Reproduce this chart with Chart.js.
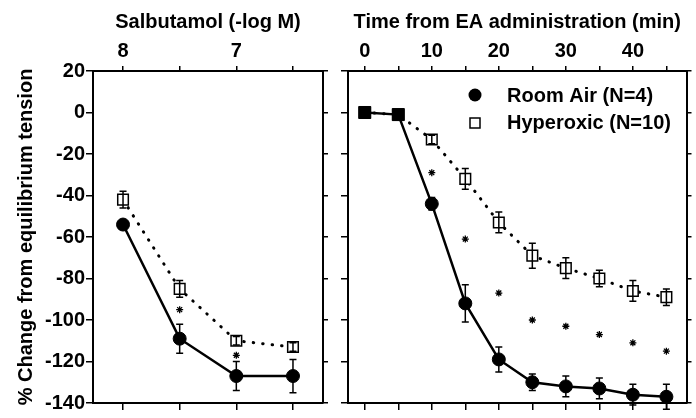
<!DOCTYPE html>
<html>
<head>
<meta charset="utf-8">
<script src="https://cdn.jsdelivr.net/npm/chart.js@4.4.1/dist/chart.umd.min.js"></script>
<style>
  body { margin: 0; background: #fff; }
  #wrap { position: relative; width: 696px; height: 418px; }
  #c1 { position: absolute; left: 0; top: 0; }
  #c2 { position: absolute; left: 335px; top: 0; }
</style>
</head>
<body>
<div id="wrap">
  <canvas id="c1" width="335" height="418"></canvas>
  <canvas id="c2" width="361" height="418"></canvas>
</div>
<script>
// left panel - salbutamol dose response
var salbDose = [8, 7.5, 7, 6.5];
var salbRoom = [-54, -109, -127, -127];
var salbRoomErr = [2, 7, 7, 8];
var salbHyper = [-42, -85, -110, -113];
var salbHyperErr = [4, 4, 2, 2];
var salbStarDose = [7.5, 7];
var salbStarVal = [-95, -117];
var salbTickLabels = [8, 7];

// right panel - time after EA
var eaTime = [0, 5, 10, 15, 20, 25, 30, 35, 40, 45];
var eaRoom = [0, -1, -44, -92, -119, -130, -132, -133, -136, -137];
var eaRoomErr = [1, 1, 3, 9, 6, 4, 5, 5, 5, 6];
var eaHyper = [0, -1, -13, -32, -53, -69, -75, -80, -86, -89];
var eaHyperErr = [1, 1, 2, 5, 5, 6, 5, 4, 5, 4];
var eaStarTime = [10, 15, 20, 25, 30, 35, 40, 45];
var eaStarVal = [-29, -61, -87, -100, -103, -107, -111, -115];
var eaTickLabels = [0, 10, 20, 30, 40];

var yTickLabels = [20, 0, -20, -40, -60, -80, -100, -120, -140];

Chart.defaults.font.family = 'Arial, "Liberation Sans", sans-serif';
Chart.defaults.font.size = 20;
Chart.defaults.font.weight = 'bold';
Chart.defaults.color = '#000';

function pts(xs, ys) {
  return xs.map(function (x, i) { return { x: x, y: ys[i] }; });
}

// error bars drawn on top of the points
var errorBars = {
  id: 'errorBars',
  afterDatasetsDraw: function (chart) {
    var ctx = chart.ctx;
    var ys = chart.scales.y;
    chart.data.datasets.forEach(function (ds, i) {
      if (!ds.errors) return;
      var meta = chart.getDatasetMeta(i);
      ctx.save();
      ctx.strokeStyle = '#000';
      ctx.lineWidth = 1.5;
      meta.data.forEach(function (p, j) {
        var v = ds.data[j].y, e = ds.errors[j];
        var y1 = ys.getPixelForValue(v + e), y2 = ys.getPixelForValue(v - e);
        ctx.beginPath();
        ctx.moveTo(p.x, y1); ctx.lineTo(p.x, y2);
        ctx.moveTo(p.x - 3.5, y1); ctx.lineTo(p.x + 3.5, y1);
        ctx.moveTo(p.x - 3.5, y2); ctx.lineTo(p.x + 3.5, y2);
        ctx.stroke();
      });
      ctx.restore();
    });
  }
};

var legendBox = {
  id: 'legendBox',
  afterDraw: function (chart) {
    var ctx = chart.ctx;
    ctx.save();
    ctx.fillStyle = '#000';
    ctx.beginPath();
    ctx.arc(140, 95, 6.5, 0, Math.PI * 2);
    ctx.fill();
    ctx.strokeStyle = '#000';
    ctx.lineWidth = 1.5;
    ctx.strokeRect(135, 118, 10, 10);
    ctx.font = 'bold 20px Arial, "Liberation Sans", sans-serif';
    ctx.textBaseline = 'alphabetic';
    ctx.fillText('Room Air (N=4)', 172, 102);
    ctx.fillText('Hyperoxic (N=10)', 172, 129);
    ctx.restore();
  }
};

function gridOpt(len) {
  return { drawOnChartArea: false, drawTicks: true, tickLength: len, color: '#000', lineWidth: 1.5 };
}
function borderOpt() {
  return { display: true, color: '#000', width: 2 };
}

function makeDatasets(xs, room, roomErr, hyper, hyperErr, starX, starY, roomStyle) {
  return [
    {
      label: 'Room Air (N=4)',
      data: pts(xs, room),
      errors: roomErr,
      borderColor: '#000',
      borderWidth: 2.5,
      backgroundColor: '#000',
      pointStyle: roomStyle,
      pointRadius: roomStyle.map(function (s) { return s === 'rect' ? 8.5 : 6.5; }),
      pointBorderWidth: 1
    },
    {
      label: 'Hyperoxic (N=10)',
      data: pts(xs, hyper),
      errors: hyperErr,
      borderColor: '#000',
      borderWidth: 3,
      borderDash: [0.5, 9],
      borderCapStyle: 'round',
      pointStyle: 'rect',
      pointRadius: 7.5,
      pointBorderWidth: 1.5,
      pointBackgroundColor: '#fff',
      pointBorderColor: '#000'
    },
    {
      label: 'sig',
      data: pts(starX, starY),
      showLine: false,
      pointStyle: 'star',
      pointRadius: 3.5,
      pointBorderWidth: 1.3,
      borderColor: '#000'
    }
  ];
}

// left chart
new Chart(document.getElementById('c1'), {
  type: 'line',
  data: {
    datasets: makeDatasets(salbDose, salbRoom, salbRoomErr, salbHyper, salbHyperErr,
      salbStarDose, salbStarVal, ['circle', 'circle', 'circle', 'circle'])
  },
  options: {
    responsive: false,
    animation: false,
    plugins: { legend: { display: false }, tooltip: { enabled: false } },
    scales: {
      x: {
        type: 'linear', position: 'top', reverse: true, min: 6.235, max: 8.265,
        afterBuildTicks: function (s) { s.ticks = salbDose.map(function (v) { return { value: v }; }); },
        afterFit: function (s) { s.height = 71; },
        ticks: {
          padding: 3,
          callback: function (v) { return salbTickLabels.indexOf(v) >= 0 ? String(v) : ''; }
        },
        grid: gridOpt(5), border: borderOpt(),
        title: { display: true, text: 'Salbutamol (-log M)', padding: { top: 10, bottom: 0 } }
      },
      xb: {
        type: 'linear', axis: 'x', position: 'bottom', reverse: true, min: 6.235, max: 8.265,
        afterBuildTicks: function (s) { s.ticks = salbDose.map(function (v) { return { value: v }; }); },
        afterFit: function (s) { s.height = 11; },
        ticks: { callback: function () { return ''; } },
        grid: gridOpt(7), border: borderOpt()
      },
      y: {
        type: 'linear', position: 'left', min: -140, max: 20,
        afterFit: function (s) { s.width = 93; },
        ticks: {
          stepSize: 10, padding: 1,
          callback: function (v) { return yTickLabels.indexOf(v) >= 0 ? String(v) : ''; }
        },
        grid: gridOpt(7), border: borderOpt(),
        title: { display: true, text: '% Change from equilibrium tension', padding: { top: 14, bottom: 0 } }
      },
      yr: {
        type: 'linear', axis: 'y', position: 'right', min: -140, max: 20,
        afterFit: function (s) { s.width = 12; },
        ticks: { stepSize: 10, callback: function () { return ''; } },
        grid: gridOpt(5), border: borderOpt()
      }
    }
  },
  plugins: [errorBars]
});

// right chart
new Chart(document.getElementById('c2'), {
  type: 'line',
  data: {
    datasets: makeDatasets(eaTime, eaRoom, eaRoomErr, eaHyper, eaHyperErr,
      eaStarTime, eaStarVal,
      eaTime.map(function (t, i) { return i < 2 ? 'rect' : 'circle'; }))
  },
  options: {
    responsive: false,
    animation: false,
    plugins: { legend: { display: false }, tooltip: { enabled: false } },
    scales: {
      x: {
        type: 'linear', position: 'top', min: -2.5, max: 48,
        afterBuildTicks: function (s) { s.ticks = eaTime.map(function (v) { return { value: v }; }); },
        afterFit: function (s) { s.height = 71; },
        ticks: {
          padding: 3,
          callback: function (v) { return eaTickLabels.indexOf(v) >= 0 ? String(v) : ''; }
        },
        grid: gridOpt(5), border: borderOpt(),
        title: { display: true, text: 'Time from EA administration (min)', padding: { top: 10, bottom: 0 } }
      },
      xb: {
        type: 'linear', axis: 'x', position: 'bottom', min: -2.5, max: 48,
        afterBuildTicks: function (s) { s.ticks = eaTime.map(function (v) { return { value: v }; }); },
        afterFit: function (s) { s.height = 11; },
        ticks: { callback: function () { return ''; } },
        grid: gridOpt(7), border: borderOpt()
      },
      y: {
        type: 'linear', position: 'left', min: -140, max: 20,
        afterFit: function (s) { s.width = 13; },
        ticks: { stepSize: 10, callback: function () { return ''; } },
        grid: gridOpt(7), border: borderOpt()
      },
      yr: {
        type: 'linear', axis: 'y', position: 'right', min: -140, max: 20,
        afterFit: function (s) { s.width = 6; },
        ticks: { stepSize: 10, callback: function () { return ''; } },
        grid: gridOpt(5), border: borderOpt()
      }
    }
  },
  plugins: [errorBars, legendBox]
});
</script>
</body>
</html>
